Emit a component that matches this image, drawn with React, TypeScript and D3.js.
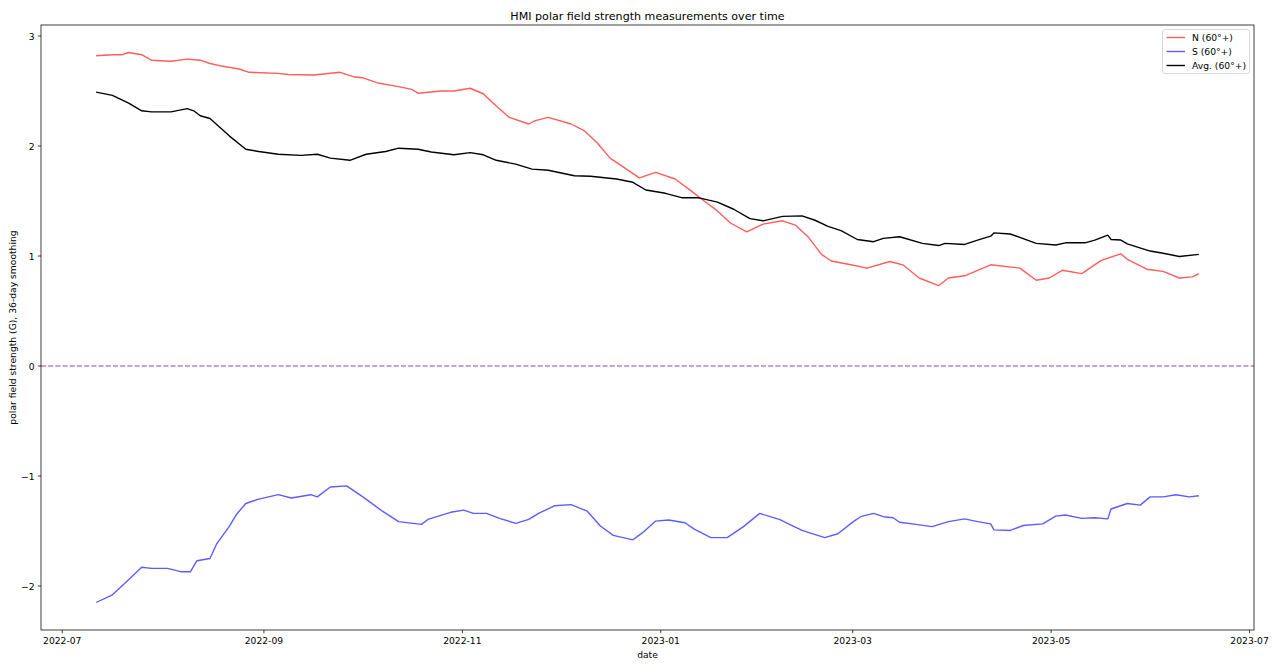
import React from 'react';
import * as d3 from 'd3';

// ---- data ----
const seriesStart = Date.UTC(2022, 6, 11, 10); // first sample, 2022-07-11
const DAY_MS = 86400000;

const nDays = [0, 5, 8, 10, 14, 17, 23, 28, 32, 35, 38, 44, 47, 56, 59, 67, 75, 79, 82, 87, 93, 97, 99, 106, 110, 115, 119, 122, 127, 133, 135, 139, 146, 150, 154, 158, 162, 167, 172, 178, 183, 186, 191, 195, 200, 205, 211, 215, 219, 223, 226, 232, 237, 244, 248, 253, 259, 262, 267, 275, 284, 289, 293, 297, 303, 309, 315, 317, 323, 328, 333, 337, 339];
const nValues = [2.82, 2.83, 2.83, 2.85, 2.83, 2.78, 2.77, 2.79, 2.78, 2.75, 2.73, 2.7, 2.67, 2.66, 2.65, 2.645, 2.67, 2.63, 2.62, 2.57, 2.54, 2.515, 2.48, 2.5, 2.5, 2.525, 2.475, 2.39, 2.26, 2.2, 2.23, 2.26, 2.2, 2.14, 2.03, 1.89, 1.81, 1.71, 1.76, 1.7, 1.59, 1.52, 1.41, 1.3, 1.22, 1.29, 1.32, 1.28, 1.17, 1.015, 0.955, 0.92, 0.89, 0.95, 0.92, 0.8, 0.73, 0.8, 0.82, 0.92, 0.89, 0.78, 0.8, 0.87, 0.84, 0.96, 1.02, 0.97, 0.88, 0.86, 0.8, 0.81, 0.84];

const sDays = [0, 5, 9, 14, 17, 22, 26, 29, 31, 35, 37, 41, 43, 46, 50, 56, 60, 66, 68, 72, 77, 82, 88, 93, 100, 102, 109, 113, 116, 120, 124, 129, 133, 136, 141, 146, 151, 155, 159, 165, 168, 172, 176, 181, 184, 189, 194, 199, 204, 210, 217, 224, 228, 233, 235, 239, 242, 245, 247, 252, 257, 262, 267, 271, 275, 276, 281, 285, 291, 295, 298, 303, 307, 311, 312, 317, 321, 324, 328, 332, 336, 339];
const sValues = [-2.15, -2.08, -1.97, -1.83, -1.84, -1.84, -1.87, -1.87, -1.77, -1.75, -1.62, -1.455, -1.355, -1.25, -1.21, -1.17, -1.2, -1.17, -1.19, -1.1, -1.09, -1.19, -1.32, -1.415, -1.44, -1.395, -1.33, -1.31, -1.34, -1.34, -1.385, -1.43, -1.395, -1.34, -1.27, -1.26, -1.32, -1.455, -1.54, -1.58, -1.515, -1.41, -1.4, -1.425, -1.485, -1.56, -1.56, -1.46, -1.34, -1.395, -1.495, -1.56, -1.525, -1.41, -1.37, -1.34, -1.37, -1.38, -1.42, -1.44, -1.46, -1.415, -1.39, -1.415, -1.435, -1.49, -1.495, -1.45, -1.435, -1.365, -1.355, -1.385, -1.38, -1.39, -1.3, -1.25, -1.265, -1.19, -1.19, -1.17, -1.19, -1.18];

const avgDays = [0, 5, 10, 14, 17, 23, 28, 30, 32, 35, 41, 46, 50, 56, 63, 68, 72, 78, 83, 89, 93, 99, 103, 110, 115, 119, 123, 129, 134, 139, 147, 152, 160, 165, 169, 175, 180, 185, 191, 196, 201, 205, 211, 217, 221, 225, 229, 234, 239, 242, 247, 254, 259, 261, 267, 271, 275, 276, 281, 289, 295, 298, 304, 307, 311, 312, 315, 317, 324, 328, 333, 339];
const avgValues = [2.49, 2.46, 2.39, 2.32, 2.31, 2.31, 2.34, 2.32, 2.275, 2.25, 2.09, 1.97, 1.95, 1.925, 1.915, 1.925, 1.89, 1.87, 1.925, 1.95, 1.98, 1.97, 1.945, 1.92, 1.94, 1.92, 1.87, 1.835, 1.79, 1.78, 1.73, 1.725, 1.7, 1.67, 1.6, 1.57, 1.53, 1.53, 1.49, 1.425, 1.34, 1.32, 1.36, 1.365, 1.325, 1.27, 1.23, 1.15, 1.13, 1.16, 1.175, 1.115, 1.095, 1.115, 1.105, 1.145, 1.18, 1.21, 1.2, 1.115, 1.1, 1.12, 1.12, 1.145, 1.19, 1.15, 1.145, 1.11, 1.045, 1.025, 0.995, 1.015];

const seriesLabels = ['N (60°+)', 'S (60°+)', 'Avg. (60°+)'];
const seriesColors = ['#ff5c5c', '#5c5cff', '#000000'];
const yTickValues = [-2, -1, 0, 1, 2, 3];

const titleText = 'HMI polar field strength measurements over time';
const xLabelText = 'date';
const yLabelText = 'polar field strength (G), 36-day smoothing';

type Pt = { t: Date; v: number };
const toPts = (days: number[], vals: number[]): Pt[] =>
  days.map((d, i) => ({ t: new Date(seriesStart + d * DAY_MS), v: vals[i] }));

const W = 1280;
const H = 669;
const L = 41;
const R = 1254;
const T = 25;
const B = 630;
const FONT = '"DejaVu Sans", sans-serif';
const FS = 9.2;

export default function App() {
  const series = [toPts(nDays, nValues), toPts(sDays, sValues), toPts(avgDays, avgValues)];
  const all = series.flat();
  const [t0, t1] = d3.extent(all, (d) => d.t.getTime()) as [number, number];
  const [v0, v1] = d3.extent(all, (d) => d.v) as [number, number];
  const tp = (t1 - t0) * 0.05;
  const vp = (v1 - v0) * 0.05;

  const x = d3.scaleUtc().domain([new Date(t0 - tp), new Date(t1 + tp)]).range([L, R]);
  const y = d3.scaleLinear().domain([v0 - vp, v1 + vp]).range([B, T]);

  const line = d3
    .line<Pt>()
    .x((d) => x(d.t))
    .y((d) => y(d.v));

  const xTicks = d3.utcMonth.every(2)!.range(new Date(t0 - tp), new Date(t1 + tp + 1));
  const fmt = d3.utcFormat('%Y-%m');
  const tickLen = 3.2;
  const pad = 3.2;

  const legendX = 1162.5;
  const legendY = 29.5;
  const rowH = 14;

  return (
    <svg
      width={W}
      height={H}
      style={{ position: 'absolute', left: 0, top: 0, background: '#fff' }}
      fontFamily={FONT}
    >
      <rect x={0} y={0} width={W} height={H} fill="#fff" />
      {/* zero line */}
      <line
        x1={L}
        x2={R}
        y1={y(0)}
        y2={y(0)}
        stroke="#bf7fbf"
        strokeWidth={1.35}
        strokeDasharray="5 2.2"
      />
      {/* series lines */}
      {series.map((s, i) => (
        <path key={i} d={line(s) || ''} fill="none" stroke={seriesColors[i]} strokeWidth={1.38} strokeLinejoin="round" />
      ))}
      {/* spines */}
      <rect x={L} y={T} width={R - L} height={B - T} fill="none" stroke="#000" strokeWidth={0.75} />
      {/* y ticks */}
      {yTickValues.map((v) => (
        <g key={v}>
          <line x1={L - tickLen} x2={L} y1={y(v)} y2={y(v)} stroke="#000" strokeWidth={0.75} />
          <text x={L - tickLen - pad} y={y(v)} textAnchor="end" dominantBaseline="central" fontSize={FS} fill="#000">
            {v < 0 ? '\u2212' + Math.abs(v) : String(v)}
          </text>
        </g>
      ))}
      {/* x ticks */}
      {xTicks.map((t) => (
        <g key={t.getTime()}>
          <line x1={x(t)} x2={x(t)} y1={B} y2={B + tickLen} stroke="#000" strokeWidth={0.75} />
          <text x={x(t)} y={B + tickLen + pad + FS * 0.78} textAnchor="middle" fontSize={FS} fill="#000">
            {fmt(t)}
          </text>
        </g>
      ))}
      {/* labels */}
      <text x={(L + R) / 2} y={20} textAnchor="middle" fontSize={11.1} fill="#000">
        {titleText}
      </text>
      <text x={(L + R) / 2} y={658} textAnchor="middle" fontSize={FS} fill="#000">
        {xLabelText}
      </text>
      <text
        transform={`translate(15.5, ${(T + B) / 2}) rotate(-90)`}
        textAnchor="middle"
        fontSize={FS}
        fill="#000"
      >
        {yLabelText}
      </text>
      {/* legend */}
      <rect
        x={legendX}
        y={legendY}
        width={87}
        height={44}
        rx={2.5}
        fill="#fff"
        fillOpacity={0.8}
        stroke="#cccccc"
        strokeWidth={0.75}
      />
      {seriesLabels.map((lab, i) => {
        const cy = legendY + 8 + i * rowH;
        return (
          <g key={lab}>
            <line x1={legendX + 4} x2={legendX + 22.5} y1={cy} y2={cy} stroke={seriesColors[i]} strokeWidth={1.38} />
            <text x={legendX + 29.5} y={cy} dominantBaseline="central" fontSize={FS} fill="#000">
              {lab}
            </text>
          </g>
        );
      })}
    </svg>
  );
}
